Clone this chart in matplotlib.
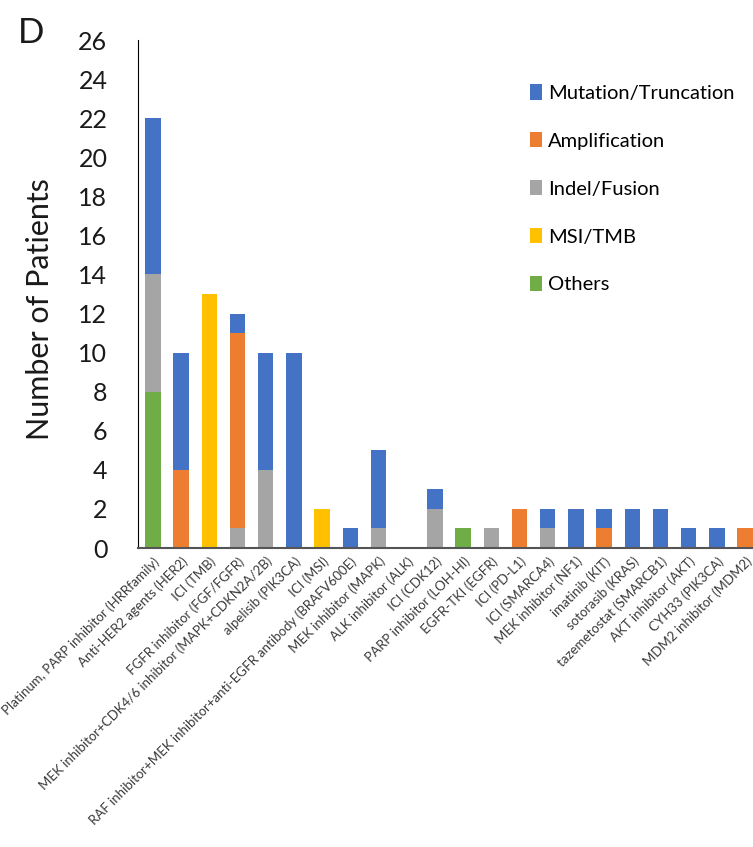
import numpy as np
import matplotlib.pyplot as plt

plt.rcParams['font.family'] = ['Lato', 'DejaVu Sans']

drugs = [
    'Platinum, PARP inhibitor (HRRfamily)',
    'Anti-HER2 agents (HER2)',
    'ICI (TMB)',
    'FGFR inhibitor (FGF/FGFR)',
    'MEK inhibitor+CDK4/6 inhibitor (MAPK+CDKN2A/2B)',
    'alpelisib (PIK3CA)',
    'ICI (MSI)',
    'RAF inhibitor+MEK inhibitor+anti-EGFR antibody (BRAFV600E)',
    'MEK inhibitor (MAPK)',
    'ALK inhibitor (ALK)',
    'ICI (CDK12)',
    'PARP inhibitor (LOH-HI)',
    'EGFR-TKI (EGFR)',
    'ICI (PD-L1)',
    'ICI (SMARCA4)',
    'MEK inhibitor (NF1)',
    'imatinib (KIT)',
    'sotorasib (KRAS)',
    'tazemetostat (SMARCB1)',
    'AKT inhibitor (AKT)',
    'CYH33 (PIK3CA)',
    'MDM2 inhibitor (MDM2)',
]

# stacked from the bottom up
others = [8, 0, 0, 0, 0, 0, 0, 0, 0, 0, 0, 1, 0, 0, 0, 0, 0, 0, 0, 0, 0, 0]
msi_tmb = [0, 0, 13, 0, 0, 0, 2, 0, 0, 0, 0, 0, 0, 0, 0, 0, 0, 0, 0, 0, 0, 0]
indel = [6, 0, 0, 1, 4, 0, 0, 0, 1, 0, 2, 0, 1, 0, 1, 0, 0, 0, 0, 0, 0, 0]
amplification = [0, 4, 0, 10, 0, 0, 0, 0, 0, 0, 0, 0, 0, 2, 0, 0, 1, 0, 0, 0, 0, 1]
mutation = [8, 6, 0, 1, 6, 10, 0, 1, 4, 0, 1, 0, 0, 0, 1, 2, 1, 2, 2, 1, 1, 0]

series = [
    ('Others', others, '#70AD47'),
    ('MSI/TMB', msi_tmb, '#FFC000'),
    ('Indel/Fusion', indel, '#A5A5A5'),
    ('Amplification', amplification, '#ED7D31'),
    ('Mutation/Truncation', mutation, '#4472C4'),
]

fig = plt.figure(figsize=(7.53, 8.47), dpi=100)
ax = fig.add_axes([138 / 753, 1 - 548 / 847, 622 / 753, 508 / 847])

x = np.arange(len(drugs))
bottom = np.zeros(len(drugs))
handles = {}
for name, vals, color in series:
    vals = np.array(vals, dtype=float)
    handles[name] = ax.bar(x, vals, 0.55, bottom=bottom, color=color, label=name)
    bottom += vals

ax.set_xlim(-0.53, len(drugs) - 0.47)
ax.set_ylim(0, 26)
ax.set_yticks(range(0, 27, 2))
ax.tick_params(axis='y', length=0, labelsize=18, pad=22, labelcolor='#1a1a1a')
ax.tick_params(axis='x', length=0, pad=5)
ax.set_xticks(x)
ax.set_xticklabels(drugs, rotation=45, ha='right', rotation_mode='anchor',
                   fontsize=9.5, color='#3a3a3a')

for side in ['top', 'right']:
    ax.spines[side].set_visible(False)
ax.spines['left'].set_color('black')
ax.spines['bottom'].set_color('#555555')
ax.spines['bottom'].set_linewidth(1.5)

ax.set_ylabel('Number of Patients', fontsize=22, color='#1a1a1a')
ax.yaxis.set_label_coords(-0.135, 0.47)

order = ['Mutation/Truncation', 'Amplification', 'Indel/Fusion', 'MSI/TMB', 'Others']
fig.legend([handles[n] for n in order], order, loc='upper left',
           bbox_to_anchor=(512 / 753, 1 - 66 / 847), frameon=False,
           fontsize=14.5, handlelength=0.6, handleheight=0.8, handletextpad=0.3,
           labelspacing=1.5)

fig.text(18 / 753, 1 - 33 / 847, 'D', fontsize=25, va='center', color='#1a1a1a')

fig.savefig('out.png', dpi=100)
